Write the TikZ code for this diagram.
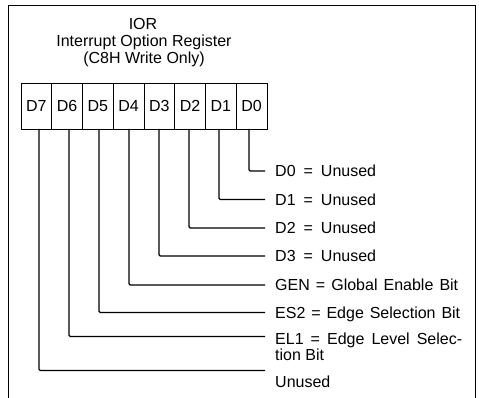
\documentclass[tikz,border=0pt]{standalone}
\usepackage{fontspec}
\setmainfont{Liberation Sans}
\begin{document}
\begin{tikzpicture}[x=1pt,y=-1pt,
  txt/.style={inner sep=0pt, font=\fontsize{16}{18}\selectfont},
  cell/.style={txt, draw, line width=0.9pt, minimum width=30.75pt, minimum height=46pt, outer sep=0pt},
  lbl/.style={txt, anchor=west, text height=11.5pt, text depth=0pt},
  ttl/.style={txt, anchor=base},
  wire/.style={line width=1.2pt, rounded corners=1.2pt}]
\useasboundingbox (0,0) rectangle (479,398);
% frame
\draw[line width=1pt] (8,398) -- (8,6) -- (475,6) -- (475,398);
% title
\node[ttl] (t1) at (143,30) {IOR};
\node[ttl] (t2) at (144,47) {Interrupt Option Register};
\node[ttl] (t3) at (144,64) {(C8H Write Only)};
% register cells
\node[cell] (c7) at (36.375,106) {D7};
\node[cell] (c6) at (67.125,106) {D6};
\node[cell] (c5) at (97.875,106) {D5};
\node[cell] (c4) at (128.625,106) {D4};
\node[cell] (c3) at (159.375,106) {D3};
\node[cell] (c2) at (190.125,106) {D2};
\node[cell] (c1) at (220.875,106) {D1};
\node[cell] (c0) at (251.625,106) {D0};
% labels
\node[lbl] (l0) at (275,171) {D0\enspace=\enspace Unused};
\node[lbl] (l1) at (275,199.5) {D1\enspace=\enspace Unused};
\node[lbl] (l2) at (275,228) {D2\enspace=\enspace Unused};
\node[lbl] (l3) at (275,256) {D3\enspace=\enspace Unused};
\node[lbl] (l4) at (275,285) {\makebox[183pt][s]{GEN = Global Enable Bit}};
\node[lbl] (l5) at (275,312.5) {\makebox[185pt][s]{ES2 = Edge Selection Bit}};
\node[lbl] (l6) at (275,338.5) {\makebox[187pt][s]{EL1 = Edge Level Selec-}};
\node[lbl] (l6b) at (275,354.5) {tion Bit};
\coordinate (e7) at (265,370.5);
\node[lbl] (l7) at (275,382) {Unused};
% connectors
\draw[wire] ([xshift=-2.6pt]c0.south) |- ([xshift=-10pt]l0.west);
\draw[wire] ([xshift=-1.9pt]c1.south) |- ([xshift=-10pt]l1.west);
\draw[wire] ([xshift=-1.1pt]c2.south) |- ([xshift=-10pt]l2.west);
\draw[wire] ([xshift=-0.4pt]c3.south) |- ([xshift=-10pt]l3.west);
\draw[wire] ([xshift=0.4pt]c4.south) |- ([xshift=-10pt]l4.west);
\draw[wire] ([xshift=1.1pt]c5.south) |- ([xshift=-10pt]l5.west);
\draw[wire] ([xshift=1.9pt]c6.south) |- ([xshift=-10pt,yshift=2pt]l6.west);
\draw[wire] ([xshift=2.6pt]c7.south) |- (e7);
\end{tikzpicture}
\end{document}
